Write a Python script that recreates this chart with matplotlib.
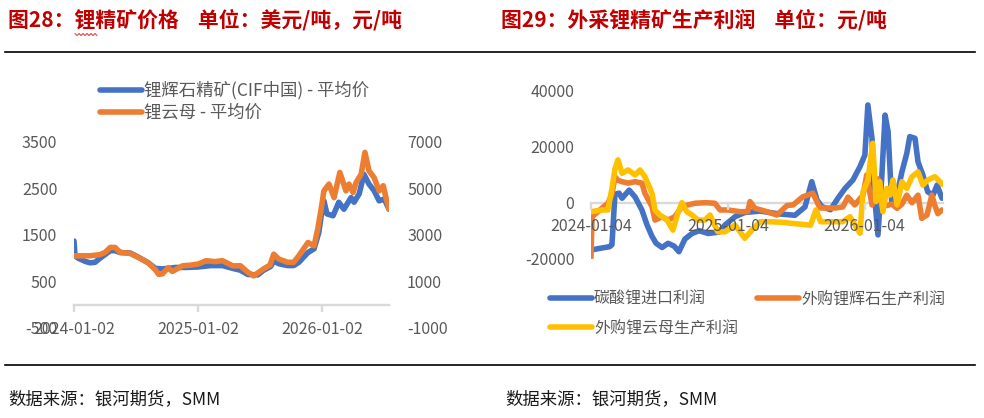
import matplotlib
matplotlib.use('Agg')
import matplotlib.pyplot as plt
from matplotlib.lines import Line2D
import pandas as pd
import numpy as np

plt.rcParams['font.family'] = ['Noto Sans CJK SC', 'DejaVu Sans']
plt.rcParams['axes.unicode_minus'] = False

# ---------------- Figure 28 data: 锂精矿价格 ----------------
start28 = '2024-01-02'
ticks28 = ['2024-01-02', '2025-01-02', '2026-01-02']
days_spod = [0, 3, 12, 33, 47, 62, 77, 92, 107, 121, 136, 166, 190, 219, 240, 261, 278, 299, 329, 367,
             403, 438, 468, 491, 512, 542, 559, 580, 589, 604, 630, 648, 663, 690, 708, 722,
             731, 737, 746, 764, 781, 796, 817, 826, 841, 855, 870, 885, 900, 915, 929]
spod_price = [1370, 1050, 1000, 930, 900, 910, 1000, 1080, 1160, 1160, 1120, 1110, 1020, 900, 780, 770, 780, 800, 800, 810,
              840, 840, 780, 740, 650, 640, 740, 820, 940, 880, 840, 840, 910, 1120, 1200, 1550,
              2000, 2230, 1950, 1910, 2200, 2050, 2300, 2200, 2380, 2800, 2590, 2450, 2230, 2270, 2050]
days_mica = [0, 12, 47, 77, 92, 107, 121, 136, 166, 190, 219, 240, 250, 261, 278, 290, 299, 320, 345, 367,
             390, 415, 438, 468, 491, 512, 530, 559, 578, 589, 604, 630, 648, 663, 690, 708,
             719, 731, 737, 752, 767, 784, 802, 811, 823, 832, 847, 858, 870, 885, 900, 912, 921, 929]
mica_price = [2100, 2100, 2100, 2150, 2250, 2460, 2460, 2250, 2200, 2030, 1800, 1500, 1300, 1330, 1590, 1430, 1500, 1670, 1700, 1750,
              1890, 1850, 1890, 1670, 1670, 1400, 1240, 1540, 1700, 2170, 1960, 1820, 1820, 2100, 2670, 2530,
              3260, 4300, 4890, 5180, 4600, 5680, 4890, 5180, 4820, 5250, 5610, 6540, 5750, 5460, 4890, 5110, 4540, 4110]
yticks28_left = [-500, 500, 1500, 2500, 3500]
yticks28_right = [-1000, 1000, 3000, 5000, 7000]
legend28 = ['锂辉石精矿(CIF中国) - 平均价', '锂云母 - 平均价']

# ---------------- Figure 29 data: 外采锂精矿生产利润 ----------------
start29 = '2024-01-04'
ticks29 = ['2024-01-04', '2025-01-04', '2026-01-04']
days_import = [0, 24, 50, 56, 64, 75, 83, 102, 118, 136, 150, 163, 174, 190, 206, 222, 235, 251, 270, 289,
               313, 342, 358, 385, 411, 452, 502, 545, 572, 590, 604, 617, 640, 660, 679, 700, 719, 732, 740, 751, 756,
               767, 777, 786, 794, 804, 818, 831, 844, 852, 866, 874, 887, 900, 914, 925, 938]
profit_import = [-16900, -16300, -15700, -15000, 3000, 3400, 1600, 4500, 2000, -2600, -8000, -12000, -14500, -16000, -14500, -15500, -17500, -13000, -11000, -10000,
                 -11000, -10500, -8000, -5000, -3500, -3000, -4000, -4500, -1500, 7500, 1000, -1400, -2500, 1600, 5100, 8100, 12900, 17000, 34900, 23000, 5000,
                 -11500, 8800, 31300, 25400, -500, 3000, 11000, 17600, 23600, 23000, 14600, 9900, 3900, 2700, 6300, 1600]
days_spod29 = [0, 3, 29, 45, 56, 64, 72, 83, 99, 118, 136, 144, 163, 171, 190, 206, 224, 243, 259, 278,
               305, 331, 345, 366, 398, 419, 425, 438, 465, 497, 524, 540, 566, 593, 612, 652, 673, 687, 705, 727,
               737, 751, 767, 777, 791, 804, 818, 831, 844, 858, 874, 884, 898, 911, 919, 927, 938]
profit_spod = [-19500, -5000, -2000, -200, 3000, 9300, 8000, 7500, 7000, 7500, 7000, 3400, -1400, -6200, -5000, -6200, -5000, -1400, -800, -200,
               0, -200, -2600, -2600, -3200, -3200, 400, -2000, -3000, -4400, -1000, -800, 2100, 3400, -1900, -1900, -1500, 2000, -800, 2700,
               9900, -800, 8500, -1000, -1000, -500, -2000, -500, 2700, 0, 2700, -5600, -4400, 2700, -1000, -3900, -2600]
days_mica29 = [0, 29, 45, 56, 64, 72, 83, 99, 118, 131, 144, 163, 171, 184, 203, 219, 232, 243, 256, 270,
               286, 305, 318, 339, 358, 385, 411, 430, 452, 480, 510, 545, 587, 601, 614, 673, 692, 719, 727, 740,
               753, 762, 772, 780, 791, 799, 807, 818, 831, 844, 858, 874, 887, 900, 919, 940]
profit_mica = [-3200, -2600, -2600, 5000, 12000, 15300, 10500, 11700, 9900, 11700, 9300, 3400, -2600, -4400, -6200, -9800, -3800, 0, -3200, -4400,
               -6200, -6200, -4400, -10400, -10400, -8000, -12700, -9800, -6800, -6800, -7000, -7500, -8000, -2600, -6800, -6800, -5000, -10900, 3900, 8000,
               21200, 400, 7500, -3200, 5100, 2700, 8100, -800, 7500, 5100, 9300, 11000, 6300, 8100, 9300, 6500]
yticks29 = [-20000, 0, 20000, 40000]
legend29 = ['碳酸锂进口利润', '外购锂辉石生产利润', '外购锂云母生产利润']

BLUE, ORANGE, YELLOW = '#4472C4', '#ED7D31', '#FFC000'
TICK_C, AXIS_C = '#595959', '#D9D9D9'
RED = '#C00000'


def to_dates(start, days):
    return pd.Timestamp(start) + pd.to_timedelta(days, unit='D')


W, H = 984, 418
fig = plt.figure(figsize=(W / 100, H / 100), dpi=100)


def rect(x0, y0, x1, y1):
    return [x0 / W, 1 - y1 / H, (x1 - x0) / W, (y1 - y0) / H]


line_kw = dict(lw=4, solid_capstyle='round', solid_joinstyle='round')

# ---------------- Left chart ----------------
ax1 = fig.add_axes(rect(74, 141.7, 389, 328))
d_spod = to_dates(start28, days_spod)
d_mica = to_dates(start28, days_mica)
l1, = ax1.plot(d_spod, spod_price, color=BLUE, label=legend28[0], **line_kw)
ax1.set_ylim(yticks28_left[0], yticks28_left[-1])
ax1.set_yticks(yticks28_left)
ax1.set_xlim(min(d_spod[0], d_mica[0]), max(d_spod[-1], d_mica[-1]))
ax1.set_xticks(pd.to_datetime(ticks28))
ax1.set_xticklabels(ticks28)

ax1b = ax1.twinx()
l2, = ax1b.plot(d_mica, mica_price, color=ORANGE, label=legend28[1], **line_kw)
ax1b.set_ylim(yticks28_right[0], yticks28_right[-1])
ax1b.set_yticks(yticks28_right)

for a in (ax1, ax1b):
    for s in a.spines.values():
        s.set_visible(False)
    a.patch.set_visible(False)
ax1.spines['bottom'].set_visible(True)
ax1.spines['bottom'].set_position(('data', 0))
ax1.spines['bottom'].set_color(AXIS_C)
ax1.spines['bottom'].set_linewidth(1.7)
ax1.tick_params(axis='x', direction='out', length=5, width=1.7, color=AXIS_C,
                labelcolor=TICK_C, labelsize=11.5, pad=7)
ax1.tick_params(axis='y', length=0, labelcolor=TICK_C, labelsize=11.5, pad=12)
ax1b.tick_params(axis='y', length=0, labelcolor=TICK_C, labelsize=11.5, pad=13)

leg1 = fig.legend(handles=[l1, l2], loc='upper left', bbox_to_anchor=(100 / W, 1 - 81 / H),
                  frameon=False, fontsize=12.5, handlelength=2.4, handletextpad=0.15,
                  labelspacing=0.25, borderpad=0, borderaxespad=0)
for t in leg1.get_texts():
    t.set_color(TICK_C)

# ---------------- Right chart ----------------
ax2 = fig.add_axes(rect(591, 90.7, 942.7, 258.7))
d_imp = to_dates(start29, days_import)
d_sp = to_dates(start29, days_spod29)
d_mc = to_dates(start29, days_mica29)
r1, = ax2.plot(d_imp, profit_import, color=BLUE, label=legend29[0], **line_kw)
r2, = ax2.plot(d_sp, profit_spod, color=ORANGE, label=legend29[1], **line_kw)
r3, = ax2.plot(d_mc, profit_mica, color=YELLOW, label=legend29[2], **line_kw)
ax2.set_ylim(yticks29[0], yticks29[-1])
ax2.set_yticks(yticks29)
ax2.set_xlim(min(d_imp[0], d_sp[0], d_mc[0]), max(d_imp[-1], d_sp[-1], d_mc[-1]))
ax2.set_xticks(pd.to_datetime(ticks29))
ax2.set_xticklabels(ticks29)
for s in ax2.spines.values():
    s.set_visible(False)
ax2.patch.set_visible(False)
ax2.spines['bottom'].set_visible(True)
ax2.spines['bottom'].set_position(('data', 0))
ax2.spines['bottom'].set_color(AXIS_C)
ax2.spines['bottom'].set_linewidth(1.7)
ax2.spines['bottom'].set_zorder(1)
ax2.set_axisbelow(False)
ax2.tick_params(axis='x', direction='out', length=5, width=1.7, color=AXIS_C,
                labelcolor=TICK_C, labelsize=11.5, pad=6)
ax2.tick_params(axis='y', length=0, labelcolor=TICK_C, labelsize=11.5, pad=12)

leg2 = fig.legend(handles=[r1, r3, r2], ncol=2, loc='upper left', bbox_to_anchor=(550 / W, 1 - 291 / H),
                  frameon=False, fontsize=11.5, handlelength=2.65, handletextpad=0.1,
                  labelspacing=0.75, columnspacing=1.2, borderpad=0, borderaxespad=0)
for t in leg2.get_texts():
    t.set_color(TICK_C)

# ---------------- Titles, rules, sources ----------------
fig.text(8 / W, 1 - 20 / H, '图28：锂精矿价格    单位：美元/吨，元/吨', ha='left', va='center',
         fontsize=15, fontweight='bold', color=RED)
fig.text(501 / W, 1 - 20 / H, '图29：外采锂精矿生产利润    单位：元/吨', ha='left', va='center',
         fontsize=15, fontweight='bold', color=RED)
# spell-check squiggle under 锂
sx = np.linspace(75, 97, 12)
sy = np.where(np.arange(12) % 2 == 0, 33.5, 35.5)
fig.add_artist(Line2D(sx / W, 1 - sy / H, transform=fig.transFigure, color='#E03030', lw=0.7))

for yy in (52, 365):
    fig.add_artist(Line2D([5 / W, 975 / W], [1 - yy / H, 1 - yy / H], transform=fig.transFigure,
                          color='black', lw=1.2))

fig.text(8 / W, 1 - 399 / H, '数据来源：银河期货，SMM', ha='left', va='center', fontsize=12.5, color='#1a1a1a')
fig.text(505 / W, 1 - 399 / H, '数据来源：银河期货，SMM', ha='left', va='center', fontsize=12.5, color='#1a1a1a')

fig.savefig('out.png', dpi=100)
